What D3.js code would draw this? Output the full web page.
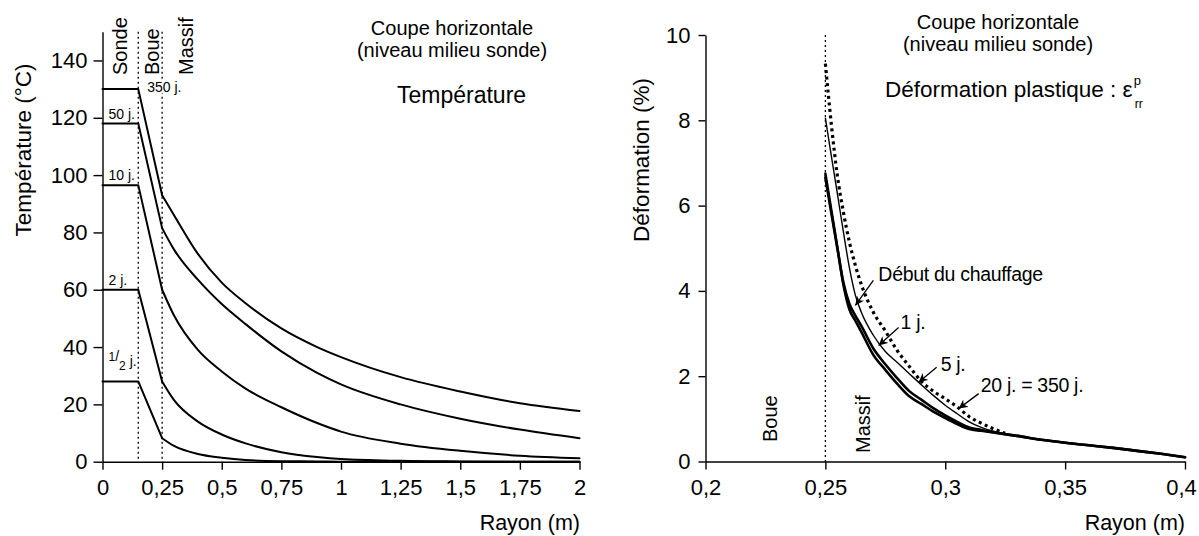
<!DOCTYPE html>
<html>
<head>
<meta charset="utf-8">
<script src="https://cdn.jsdelivr.net/npm/d3@7"></script>
<style>
  body { margin: 0; background: #fff; }
  svg { display: block; font-family: "Liberation Sans", Arial, Helvetica, sans-serif; }
  .axis path, .axis line { stroke: #000; stroke-width: 1.4; }
  .axis text { font-family: "Liberation Sans", Arial, Helvetica, sans-serif; font-size: 22px; fill: #000; }
  .courbe { fill: none; stroke: #000; stroke-linejoin: round; stroke-linecap: round; }
  .limite { stroke: #000; stroke-width: 1.3; stroke-dasharray: 2,3; }
</style>
</head>
<body>
<svg id="chart" width="1199" height="536"></svg>
<script>
// ---- Température (panneau gauche) ----
var ticksRayonT = [0, 0.25, 0.5, 0.75, 1, 1.25, 1.5, 1.75, 2];
var ticksTemp = [0, 20, 40, 60, 80, 100, 120, 140];
var rSonde = 0.15, rBoue = 0.25;

var joursT = ["1/2 j.", "2 j.", "10 j.", "50 j.", "350 j."];
// température dans la sonde (palier)
var tSonde = [28, 60, 96.5, 118, 130];
// rayons des points à partir de la paroi (0,25 m)
var rayonT = [0.25, 0.3, 0.4, 0.5, 0.6, 0.75, 0.9, 1.0, 1.25, 1.5, 1.75, 2.0];
var tDemiJour = [8.2, 5.5, 2.7, 1.4, 0.6, 0.2, 0.1, 0, 0, 0, 0, 0];
var tDeuxJours = [28, 21.5, 14, 9.5, 6.4, 3.3, 1.6, 0.9, 0.3, 0.1, 0, 0];
var tDixJours = [60, 51, 39, 31.5, 25.5, 19, 13.5, 10.5, 6.3, 3.8, 2.1, 1.2];
var tCinquanteJours = [81.5, 74, 63.5, 55, 48, 38.5, 31, 27, 20, 15, 11.2, 8.2];
var tTroisCentCinquanteJours = [93, 86, 72.5, 62.5, 55.3, 46.5, 40, 36.5, 29.5, 24.5, 20.4, 17.7];
var seriesT = [tDemiJour, tDeuxJours, tDixJours, tCinquanteJours, tTroisCentCinquanteJours];

// ---- Déformation (panneau droit) ----
var ticksRayonD = [0.2, 0.25, 0.3, 0.35, 0.4];
var ticksDef = [0, 2, 4, 6, 8, 10];
var rayonD = [0.25, 0.2525, 0.255, 0.2575, 0.26, 0.2625, 0.265, 0.27, 0.275, 0.28, 0.285, 0.29, 0.295,
  0.30, 0.305, 0.31, 0.315, 0.32, 0.325, 0.33, 0.34, 0.35, 0.36, 0.37, 0.38, 0.39, 0.40];
var dDebut = [6.75, 5.88, 5.02, 4.15, 3.57, 3.30, 3.04, 2.5, 2.15, 1.82, 1.53, 1.35, 1.17,
  1.02, 0.88, 0.76, 0.72, 0.68, 0.64, 0.6, 0.51, 0.44, 0.38, 0.32, 0.25, 0.18, 0.1];
var dUnJour = [6.65, 5.82, 5.0, 4.2, 3.7, 3.42, 3.18, 2.65, 2.28, 1.95, 1.65, 1.45, 1.25,
  1.08, 0.93, 0.8, 0.74, 0.69, 0.64, 0.6, 0.51, 0.44, 0.38, 0.32, 0.25, 0.18, 0.1];
var dCinqJours = [8.05, 7.16, 6.28, 5.39, 4.55, 3.9, 3.5, 2.96, 2.58, 2.32, 2.06, 1.8, 1.55,
  1.32, 1.12, 0.93, 0.8, 0.71, 0.65, 0.6, 0.51, 0.44, 0.38, 0.32, 0.25, 0.18, 0.1];
var dVingtJours = [9.33, 7.9, 6.7, 5.85, 5.15, 4.6, 4.15, 3.5, 3.06, 2.6, 2.23, 1.88, 1.65,
  1.47, 1.28, 1.05, 0.9, 0.77, 0.66, null, null, null, null, null, null, null, null];

var annotTexte = ["Début du chauffage", "1 j.", "5 j.", "20 j. = 350 j."];
var annotPointe = [[0.2625, 3.66], [0.2722, 2.72], [0.2889, 1.86], [0.3056, 1.24]];

var svg = d3.select("#chart");
var virgule = function(d) { return String(d).replace(".", ","); };

svg.append("defs").append("marker")
  .attr("id", "fleche")
  .attr("viewBox", "0 0 10 10")
  .attr("refX", 10).attr("refY", 5)
  .attr("markerWidth", 9).attr("markerHeight", 9)
  .attr("markerUnits", "userSpaceOnUse")
  .attr("orient", "auto")
  .append("path")
  .attr("d", "M0,0 L10,5 L0,10 L3,5 z")
  .attr("fill", "#000");

// =============== Panneau gauche ===============
var xT = d3.scaleLinear().domain([0, 2]).range([102.5, 579.5]);
var yT = d3.scaleLinear().domain([0, 150]).range([461.7, 31.8]);

var gL = svg.append("g");

gL.append("g")
  .attr("class", "axis")
  .attr("transform", "translate(0," + yT(0) + ")")
  .call(d3.axisBottom(xT).tickValues(ticksRayonT).tickFormat(virgule)
    .tickSize(8).tickSizeOuter(0).tickPadding(10));

gL.append("g")
  .attr("class", "axis")
  .attr("transform", "translate(" + xT(0) + ",0)")
  .call(d3.axisLeft(yT).tickValues(ticksTemp).tickSize(9).tickSizeOuter(0).tickPadding(6));

// limites sonde / boue / massif
[rSonde, rBoue].forEach(function(r) {
  gL.append("line").attr("class", "limite")
    .attr("x1", xT(r)).attr("x2", xT(r))
    .attr("y1", yT(150)).attr("y2", yT(0));
});

var lineTete = d3.line().x(function(d) { return xT(d[0]); }).y(function(d) { return yT(d[1]); });
var lineQueue = d3.line().x(function(d) { return xT(d[0]); }).y(function(d) { return yT(d[1]); })
  .curve(d3.curveMonotoneX);

seriesT.forEach(function(serie, i) {
  var tete = [[0, tSonde[i]], [rSonde, tSonde[i]], [rBoue, serie[0]]];
  var queue = rayonT.map(function(r, j) { return [r, serie[j]]; });
  gL.append("path").attr("class", "courbe").attr("stroke-width", 2).attr("d", lineTete(tete));
  gL.append("path").attr("class", "courbe").attr("stroke-width", 2).attr("d", lineQueue(queue));
});

// étiquettes des courbes
seriesT.forEach(function(serie, i) {
  var t = gL.append("text").attr("font-size", 14);
  if (i === 4) {
    t.attr("x", xT(rSonde) + 9).attr("y", yT(tSonde[i]) + 3)
      .attr("stroke", "#fff").attr("stroke-width", 4).attr("paint-order", "stroke")
      .text(joursT[i]);
  } else if (i === 0) {
    t.attr("x", xT(0) + 6).attr("y", yT(tSonde[i]) - 15);
    t.append("tspan").attr("font-size", 12).attr("dy", -5).text("1");
    t.append("tspan").text("/");
    t.append("tspan").attr("font-size", 12).attr("dy", 9).text("2");
    t.append("tspan").attr("dy", -4).text(" j.");
  } else {
    t.attr("x", xT(0) + 6).attr("y", yT(tSonde[i]) - 5).text(joursT[i]);
  }
});

// zones
[["Sonde", 120], ["Boue", 152], ["Massif", 186]].forEach(function(z) {
  gL.append("text")
    .attr("transform", "translate(" + z[1] + ",75) rotate(-90)")
    .attr("dy", "0.35em")
    .attr("font-size", 20)
    .text(z[0]);
});

gL.append("text").attr("x", 452).attr("y", 35).attr("text-anchor", "middle")
  .attr("font-size", 20).text("Coupe horizontale");
gL.append("text").attr("x", 452).attr("y", 57).attr("text-anchor", "middle")
  .attr("font-size", 20).text("(niveau milieu sonde)");
gL.append("text").attr("x", 397).attr("y", 103).attr("font-size", 23).text("Température");

gL.append("text")
  .attr("transform", "translate(31,150) rotate(-90)")
  .attr("text-anchor", "middle").attr("font-size", 22.5)
  .text("Température (°C)");
gL.append("text").attr("x", 580).attr("y", 530).attr("text-anchor", "end")
  .attr("font-size", 21.5).text("Rayon (m)");

// =============== Panneau droit ===============
var xD = d3.scaleLinear().domain([0.2, 0.4]).range([705.5, 1185]);
var yD = d3.scaleLinear().domain([0, 10]).range([461.5, 35]);

var gR = svg.append("g");

var axeXD = gR.append("g")
  .attr("class", "axis")
  .attr("transform", "translate(0," + yD(0) + ")")
  .call(d3.axisBottom(xD).tickValues(ticksRayonD).tickFormat(virgule)
    .tickSize(8).tickSizeOuter(0).tickPadding(10));
// le dernier libellé touche le bord droit
axeXD.selectAll(".tick text").filter(function(d) { return d === 0.4; }).attr("dx", -4);

gR.append("g")
  .attr("class", "axis")
  .attr("transform", "translate(" + xD(0.2) + ",0)")
  .call(d3.axisLeft(yD).tickValues(ticksDef).tickSize(7).tickSizeOuter(0).tickPadding(8));

gR.append("line").attr("class", "limite")
  .attr("x1", xD(rBoue)).attr("x2", xD(rBoue))
  .attr("y1", yD(10)).attr("y2", yD(0));

var lineD = d3.line()
  .defined(function(d) { return d[1] !== null; })
  .x(function(d) { return xD(d[0]); })
  .y(function(d) { return yD(d[1]); })
  .curve(d3.curveMonotoneX);

function pointsD(serie) { return rayonD.map(function(r, j) { return [r, serie[j]]; }); }

gR.append("path").attr("class", "courbe").attr("stroke-width", 1.4).attr("d", lineD(pointsD(dCinqJours)));
gR.append("path").attr("class", "courbe").attr("stroke-width", 2.6).attr("d", lineD(pointsD(dDebut)));
gR.append("path").attr("class", "courbe").attr("stroke-width", 2.6).attr("d", lineD(pointsD(dUnJour)));
gR.append("path").attr("class", "courbe").attr("stroke-width", 3.2)
  .style("stroke-linecap", "butt").attr("stroke-dasharray", "3,3.5")
  .attr("d", lineD(pointsD(dVingtJours)));

// flèches et annotations
var decalTexte = [[23, -24], [22, -16], [22, -11], [22, -17]];
var decalQueue = [[18, -25], [20, -18], [18, -15], [20, -15]];
annotTexte.forEach(function(txt, i) {
  var px = xD(annotPointe[i][0]), py = yD(annotPointe[i][1]);
  gR.append("line")
    .attr("x1", px + decalQueue[i][0]).attr("y1", py + decalQueue[i][1])
    .attr("x2", px).attr("y2", py)
    .attr("stroke", "#000").attr("stroke-width", 1.3)
    .attr("marker-end", "url(#fleche)");
  gR.append("text")
    .attr("x", px + decalTexte[i][0]).attr("y", py + decalTexte[i][1])
    .attr("font-size", 19.5).attr("letter-spacing", -0.3)
    .text(txt);
});

[["Boue", 770, 442], ["Massif", 863, 453]].forEach(function(z) {
  gR.append("text")
    .attr("transform", "translate(" + z[1] + "," + z[2] + ") rotate(-90)")
    .attr("dy", "0.35em")
    .attr("font-size", 20)
    .text(z[0]);
});

gR.append("text").attr("x", 998).attr("y", 29).attr("text-anchor", "middle")
  .attr("font-size", 20).text("Coupe horizontale");
gR.append("text").attr("x", 998).attr("y", 51).attr("text-anchor", "middle")
  .attr("font-size", 20).text("(niveau milieu sonde)");

var titreD = gR.append("text").attr("x", 885).attr("y", 97).attr("font-size", 22.5)
  .text("Déformation plastique : ε");
var lg = titreD.node().getComputedTextLength();
gR.append("text").attr("x", 885 + lg + 1).attr("y", 85).attr("font-size", 13).text("p");
gR.append("text").attr("x", 885 + lg + 2).attr("y", 108).attr("font-size", 12).text("rr");

gR.append("text")
  .attr("transform", "translate(649,160) rotate(-90)")
  .attr("text-anchor", "middle").attr("font-size", 22.5)
  .text("Déformation (%)");
gR.append("text").attr("x", 1185).attr("y", 530).attr("text-anchor", "end")
  .attr("font-size", 21.5).text("Rayon (m)");
</script>
</body>
</html>
